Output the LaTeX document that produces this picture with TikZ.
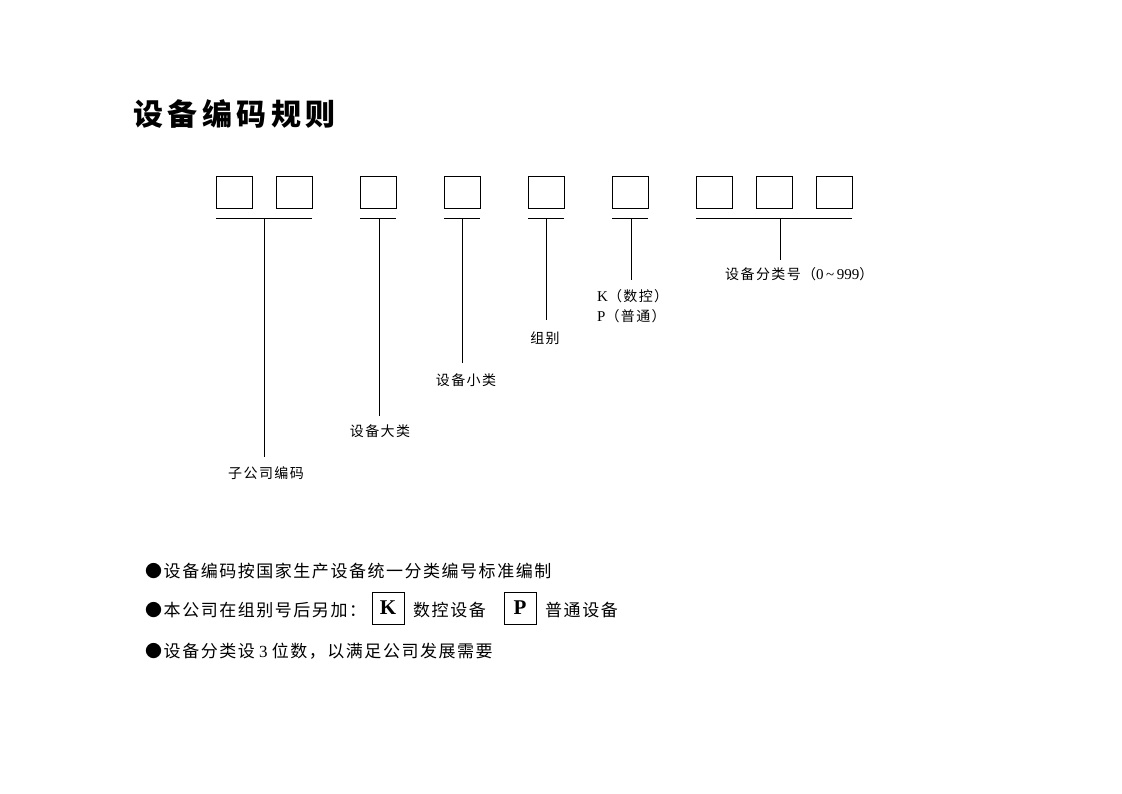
\documentclass[tikz,border=0pt]{standalone}
\usepackage{fontspec}
\setmainfont{Liberation Serif}
\newfontfamily\cjkt{Noto Sans CJK SC}[LetterSpace=15]
\newfontfamily\cjkl{Noto Sans CJK SC}[LetterSpace=10]
\newfontfamily\cjkb{Noto Sans CJK SC}[LetterSpace=9]
\tikzset{
  cell/.style={draw, line width=1pt, minimum width=36pt, minimum height=32pt, inner sep=0pt},
  letterbox/.style={draw, line width=1pt, minimum width=32pt, minimum height=32pt, inner sep=0pt, font=\fontsize{21}{24}\selectfont\bfseries},
  rule/.style={line width=1pt},
  lab/.style={inner sep=0pt, font=\fontsize{14}{16}\selectfont\cjkl},
  bul/.style={inner sep=0pt, anchor=west, font=\fontsize{17}{19}\selectfont\cjkb},
}
\begin{document}
\begin{tikzpicture}[x=1pt,y=-1pt]
\useasboundingbox (0,0) rectangle (1122,793);
% title
\node[anchor=west, inner sep=0pt, font=\fontsize{30}{32}\selectfont\cjkt\bfseries] (title) at (133,114) {设备编码规则};
% cells
\node[cell] (c1) at (234,192) {};
\node[cell] (c2) at (294,192) {};
\node[cell] (c3) at (378,192) {};
\node[cell] (c4) at (462,192) {};
\node[cell] (c5) at (546,192) {};
\node[cell] (c6) at (630,192) {};
\node[cell] (c7) at (714,192) {};
\node[cell] (c8) at (774,192) {};
\node[cell] (c9) at (834,192) {};
% bars
\coordinate (b1l) at (216,218); \coordinate (b1r) at (312,218); \coordinate (s1) at (264,218); \coordinate (e1) at (264,457);
\coordinate (b2l) at (360,218); \coordinate (b2r) at (396,218); \coordinate (s2) at (379,218); \coordinate (e2) at (379,416);
\coordinate (b3l) at (444,218); \coordinate (b3r) at (480,218); \coordinate (s3) at (462,218); \coordinate (e3) at (462,363);
\coordinate (b4l) at (528,218); \coordinate (b4r) at (564,218); \coordinate (s4) at (546,218); \coordinate (e4) at (546,320);
\coordinate (b5l) at (612,218); \coordinate (b5r) at (648,218); \coordinate (s5) at (631,218); \coordinate (e5) at (631,280);
\coordinate (b6l) at (696,218); \coordinate (b6r) at (852,218); \coordinate (s6) at (780.5,218); \coordinate (e6) at (780.5,260);
\foreach \i in {1,...,6}{
  \draw[rule] (b\i l) -- (b\i r);
  \draw[rule] (s\i) -- (e\i);
}
% labels
\node[lab] (l1) at (266,473) {子公司编码};
\node[lab] (l2) at (380,431) {设备大类};
\node[lab] (l3) at (466,380) {设备小类};
\node[lab] (l4) at (545,338) {组别};
\node[lab, anchor=west] (l5) at (597,296) {{\rmfamily\fontsize{15}{16}\selectfont K}（数控）};
\node[lab, anchor=west] (l6) at (597,316) {{\rmfamily\fontsize{15}{16}\selectfont P}（普通）};
\node[lab, anchor=west] (l7) at (725,274) {设备分类号（{\rmfamily\fontsize{15}{16}\selectfont 0\,\textasciitilde\,999}）};
% notes
\node[bul] (n1) at (145,571) {●设备编码按国家生产设备统一分类编号标准编制};
\node[bul] (n2) at (145,610) {●本公司在组别号后另加：};
\node[letterbox] (kb) at (388,608) {K};
\node[bul] (n2b) at (413,610) {数控设备};
\node[letterbox] (pb) at (520,608) {P};
\node[bul] (n2c) at (545,610) {普通设备};
\node[bul] (n3) at (145,651) {●设备分类设{\rmfamily\fontsize{17}{19}\selectfont\ 3\ }位数，以满足公司发展需要};
\end{tikzpicture}
\end{document}
